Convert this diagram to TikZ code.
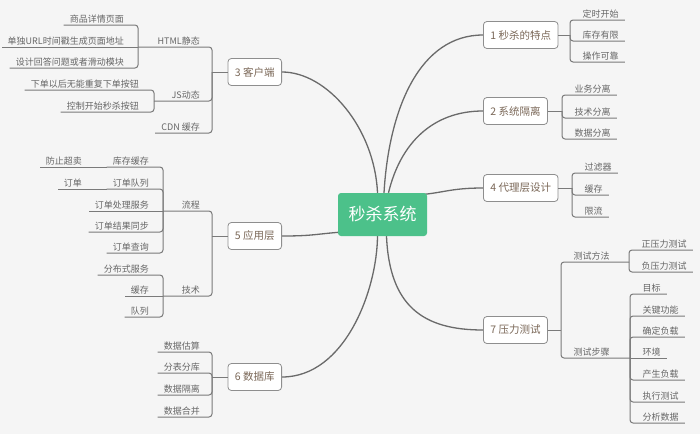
\documentclass[tikz,border=0pt]{standalone}
\usepackage{fontspec}
\newfontfamily\cjk{Noto Sans CJK SC}
\usetikzlibrary{calc}
\definecolor{bgc}{HTML}{F5F5F5}
\definecolor{mygreen}{HTML}{4CC18A}
\definecolor{linec}{HTML}{6A6A6A}
\definecolor{brkc}{HTML}{7A7A7A}
\definecolor{boxc}{HTML}{8E8E8E}
\definecolor{topicc}{HTML}{7A6757}
\definecolor{leafc}{HTML}{666666}
\pgfdeclarelayer{back}
\pgfsetlayers{back,main}
\begin{document}
\begin{tikzpicture}[x=1pt,y=-1pt,
 conn/.style={draw=linec, line width=1.3pt},
 brk/.style={draw=brkc, line width=1pt, rounded corners=3pt},
 topic/.style={draw=boxc, fill=white, rounded corners=3.5pt, line width=0.8pt, text=topicc,
   font=\cjk\fontsize{10.5}{12}\selectfont, minimum height=27pt, inner xsep=7pt},
 leaf/.style={text=leafc, font=\cjk\fontsize{9}{10}\selectfont, inner xsep=6pt, inner ysep=1pt,
   text height=7.5pt, text depth=1.5pt},
 leafR/.style={leaf, anchor=south west},
 leafL/.style={leaf, anchor=south east},
]
\begin{pgfonlayer}{back}
\fill[bgc] (0,0) rectangle (700,434);
\end{pgfonlayer}
\useasboundingbox (0,0) rectangle (700,434);

% center
\node[fill=mygreen, rounded corners=3pt, text=white, font=\cjk\fontsize{17}{20}\selectfont,
  minimum width=89pt, minimum height=43pt, inner sep=0pt] (c) at (382.5,214.5) {秒杀系统};

% main topics
\node[topic, anchor=west] (n1) at (483,35) {1 秒杀的特点};
\node[topic, anchor=west] (n2) at (483,111) {2 系统隔离};
\node[topic, anchor=west] (n4) at (483,188) {4 代理层设计};
\node[topic, anchor=west] (n7) at (483,330) {7 压力测试};
\node[topic, anchor=east] (n3) at (282,72) {3 客户端};
\node[topic, anchor=east] (n5) at (282,236) {5 应用层};
\node[topic, anchor=east] (n6) at (282,377) {6 数据库};

% curves
\begin{pgfonlayer}{back}
\draw[conn] (n1.west) .. controls +(-63,0) and +(5,-85) .. ($(c.north)+(1.5,0)$);
\draw[conn] (n2.west) .. controls +(-50,0) and +(12,-50) .. ($(c.north)+(6,0)$);
\draw[conn] (n3.east) .. controls +(45,0) and +(-3,-65) .. ($(c.north)+(-5,0)$);
\draw[conn] (n4.west) .. controls +(-30,0) and +(20,-2) .. ($(c.north east)+(-3,1.5)$);
\draw[conn] (n5.east) .. controls +(30,0) and +(-25,2) .. ($(c.south west)+(2,-4)$);
\draw[conn] (n6.east) .. controls +(63,0) and +(-0.5,54) .. ($(c.south)+(-5,0)$);
\draw[conn] (n7.west) .. controls +(-60,0) and +(3,70) .. ($(c.south)+(4,0)$);
\end{pgfonlayer}

% ---- 1
\coordinate (b1) at (570,35);
\draw[brk] (n1.east) -- (b1);
\node[leafR] (l11) at (576.5,20) {定时开始};
\node[leafR] (l12) at (576.5,41) {库存有限};
\node[leafR] (l13) at (576.5,62) {操作可靠};
\foreach \l in {l11,l12,l13} \draw[brk] (b1) |- (\l.south east);

% ---- 2
\coordinate (b2) at (562,111);
\draw[brk] (n2.east) -- (b2);
\node[leafR] (l21) at (568.5,95) {业务分离};
\node[leafR] (l22) at (568.5,118) {技术分离};
\node[leafR] (l23) at (568.5,139) {数据分离};
\foreach \l in {l21,l22,l23} \draw[brk] (b2) |- (\l.south east);

% ---- 4
\coordinate (b4) at (572,188);
\draw[brk] (n4.east) -- (b4);
\node[leafR] (l41) at (578.5,173) {过滤器};
\node[leafR] (l42) at (578.5,195) {缓存};
\node[leafR] (l43) at (578.5,217) {限流};
\foreach \l in {l41,l42,l43} \draw[brk] (b4) |- (\l.south east);

% ---- 7
\coordinate (b7) at (561,330);
\draw[brk] (n7.east) -- (b7);
\node[leafR] (s71) at (567.5,262) {测试方法};
\node[leafR] (s72) at (567.5,358) {测试步骤};
\coordinate (b71) at (629,262);
\coordinate (b72) at (630,358);
\draw[brk] (b7) |- (b71);
\draw[brk] (b7) |- (b72);
\node[leafR] (l711) at (635.5,250) {正压力测试};
\node[leafR] (l712) at (635.5,272) {负压力测试};
\foreach \l in {l711,l712} \draw[brk] (b71) |- (\l.south east);
\node[leafR] (l721) at (636.5,294) {目标};
\node[leafR] (l722) at (636.5,316) {关键功能};
\node[leafR] (l723) at (636.5,337) {确定负载};
\node[leafR] (l724) at (636.5,358) {环境};
\node[leafR] (l725) at (636.5,380) {产生负载};
\node[leafR] (l726) at (636.5,402) {执行测试};
\node[leafR] (l727) at (636.5,423) {分析数据};
\foreach \l in {l721,l722,l723,l725,l726,l727} \draw[brk] (b72) |- (\l.south east);
\draw[brk] (b72) -- (l724.south east);

% ---- 3
\coordinate (b3) at (212,72);
\draw[brk] (n3.west) -- (b3);
\node[leafL] (s31) at (206,47) {HTML静态};
\node[leafL] (s32) at (206,101) {JS动态};
\node[leafL] (s33) at (206,133) {CDN 缓存};
\coordinate (b31) at (138,47);
\coordinate (b32) at (154,101);
\draw[brk] (b3) |- (b31);
\draw[brk] (b3) |- (b32);
\draw[brk] (b3) |- (s33.south west);
\node[leafL] (l311) at (130,25) {商品详情页面};
\node[leafL] (l312) at (130,47) {单独URL时间戳生成页面地址};
\node[leafL] (l313) at (130,68) {设计回答问题或者滑动模块};
\draw[brk] (b31) |- (l311.south west);
\draw[brk] (b31) -- (l312.south west);
\draw[brk] (b31) |- (l313.south west);
\node[leafL] (l321) at (145,90) {下单以后无能重复下单按钮};
\node[leafL] (l322) at (145,112) {控制开始秒杀按钮};
\foreach \l in {l321,l322} \draw[brk] (b32) |- (\l.south west);

% ---- 5
\coordinate (b5) at (212,236);
\draw[brk] (n5.west) -- (b5);
\node[leafL] (s51) at (206,211) {流程};
\node[leafL] (s52) at (206,296) {技术};
\coordinate (b51) at (163,211);
\coordinate (b52) at (163,296);
\draw[brk] (b5) |- (b51);
\draw[brk] (b5) |- (b52);
\node[leafL] (l511) at (155,167) {库存缓存};
\node[leafL] (l512) at (155,189) {订单队列};
\node[leafL] (l513) at (155,211) {订单处理服务};
\node[leafL] (l514) at (155,232) {订单结果同步};
\node[leafL] (l515) at (155,253) {订单查询};
\foreach \l in {l511,l512,l514,l515} \draw[brk] (b51) |- (\l.south west);
\draw[brk] (b51) -- (l513.south west);
\node[leafL] (l5111) at (88,167) {防止超卖};
\node[leafL] (l5121) at (88,189) {订单};
\draw[brk] (l511.south west) -- (l5111.south west);
\draw[brk] (l512.south west) -- (l5121.south west);
\node[leafL] (l521) at (155,275) {分布式服务};
\node[leafL] (l522) at (155,296) {缓存};
\node[leafL] (l523) at (155,317) {队列};
\draw[brk] (b52) |- (l521.south west);
\draw[brk] (b52) -- (l522.south west);
\draw[brk] (b52) |- (l523.south west);

% ---- 6
\coordinate (b6) at (212,377);
\draw[brk] (n6.west) -- (b6);
\node[leafL] (l61) at (206,352) {数据估算};
\node[leafL] (l62) at (206,373) {分表分库};
\node[leafL] (l63) at (206,395) {数据隔离};
\node[leafL] (l64) at (206,417) {数据合并};
\foreach \l in {l61,l62,l63,l64} \draw[brk] (b6) |- (\l.south west);
\end{tikzpicture}
\end{document}
